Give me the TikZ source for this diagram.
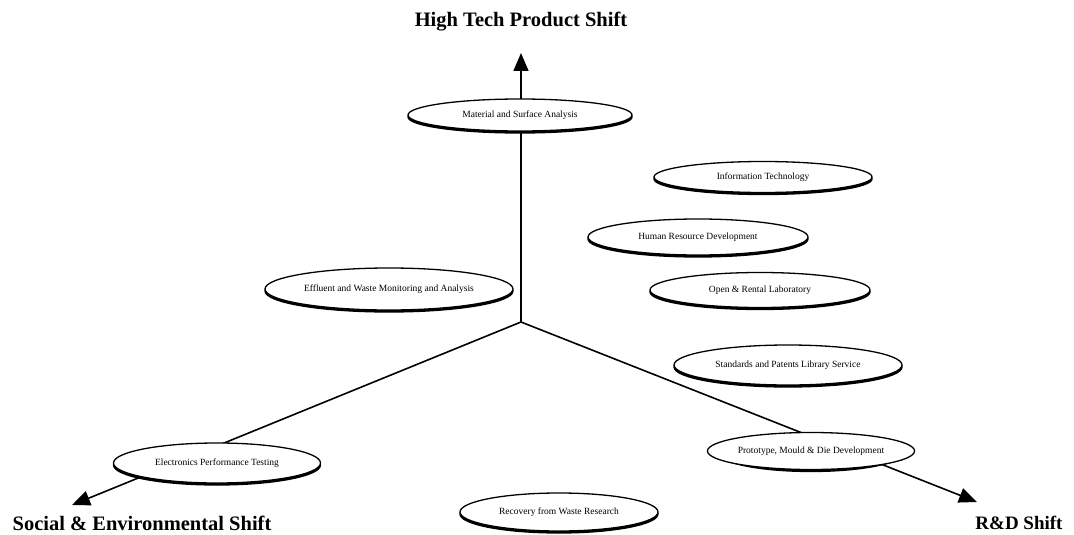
\documentclass[tikz,border=0pt]{standalone}
\usepackage{fontspec}
\setmainfont{Liberation Serif}
\usetikzlibrary{shapes.geometric,arrows.meta}
\tikzset{
  oval/.style={ellipse, draw=black, fill=white, line width=1.3pt, inner sep=0pt,
    font=\fontsize{9.5}{11}\selectfont},
  ovalshadow/.style={ellipse, draw=black, fill=black, line width=1.3pt, inner sep=0pt},
  axis/.style={line width=1.6pt, -{Triangle[width=15pt,length=18pt]}},
  shiftlabel/.style={font=\fontsize{20.5}{24}\bfseries\selectfont},
}
\newcommand{\mkoval}[5]{%
  \node[ovalshadow, minimum width=#3, minimum height=#4] at ([yshift=-2pt]#1) {};
  \node[oval, minimum width=#3, minimum height=#4] (#2) at (#1) {#5};}
\begin{document}
\begin{tikzpicture}[x=1pt,y=-1pt]
\useasboundingbox (0,0) rectangle (1074,535);
\fill[white] (0,0) rectangle (1074,535);
% axes
\coordinate (o) at (521,322);
\coordinate (tipu) at (521,53);
\coordinate (tipl) at (72,505);
\coordinate (tipr) at (977,502);
\draw[axis] (o) -- (tipu);
\draw[axis] (o) -- (tipl);
\draw[axis] (o) -- (tipr);
% labels
\node[shiftlabel] (lu) at (521,22) {High Tech Product Shift};
\node[shiftlabel] (ll) at (142,523) {Social \& Environmental Shift};
\node[shiftlabel, font=\fontsize{19}{22}\bfseries\selectfont] (lr) at (1019,523) {R\&D Shift};
% ovals
\mkoval{520,115}{mat}{224pt}{32pt}{Material and Surface Analysis}
\mkoval{763,177}{it}{218pt}{31pt}{Information Technology}
\mkoval{698,237}{hr}{220pt}{36pt}{Human Resource Development}
\mkoval{760,290}{orl}{220pt}{35pt}{Open \& Rental Laboratory}
\mkoval{389,289}{eff}{248pt}{42pt}{Effluent and Waste Monitoring and Analysis}
\mkoval{788,365}{std}{228pt}{40pt}{Standards and Patents Library Service}
\mkoval{217,463}{ept}{207pt}{40pt}{Electronics Performance Testing}
\mkoval{811,451}{pmd}{184pt}{37pt}{Prototype, Mould \& Die Development}
\mkoval{559,512}{rec}{198pt}{38pt}{Recovery from Waste Research}
\end{tikzpicture}
\end{document}
